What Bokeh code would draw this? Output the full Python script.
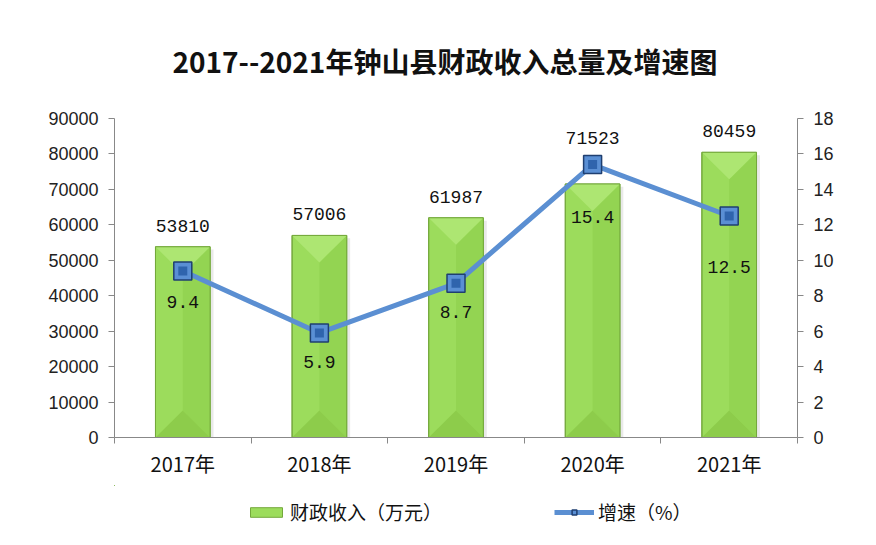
from bokeh.plotting import figure
from bokeh.layouts import column
from bokeh.models import (Range1d, LinearAxis, FixedTicker, NumeralTickFormatter,
                          Legend, LegendItem, ColumnDataSource)
from bokeh.embed import file_html
from bokeh.resources import INLINE
from bokeh.core.properties import value

# data
years = ["2017年", "2018年", "2019年", "2020年", "2021年"]
revenue = [53810, 57006, 61987, 71523, 80459]
growth = [9.4, 5.9, 8.7, 15.4, 12.5]

idx = list(range(len(years)))

BAR = dict(fill_color="#9cdc5c", line_color="#74a83c", line_width=1)
LINE = dict(line_color="#5b8fd2", line_width=5)
MARK = dict(marker="square", size=18, fill_color="#5a8fd4", line_color="#1f3f70",
            line_width=1.5)

p = figure(width=860, height=485, output_backend="svg", toolbar_location=None,
           x_range=Range1d(-0.5, 4.5), y_range=Range1d(0, 90000),
           min_border_left=114, min_border_right=63, min_border_top=118,
           min_border_bottom=48)
p.extra_y_ranges = {"rate": Range1d(0, 18)}
p.outline_line_color = None
p.xgrid.visible = False
p.ygrid.visible = False

p.title.text = "2017--2021年钟山县财政收入总量及增速图"
p.title.align = "left"
p.title.offset = 58
p.title.text_font = "Noto Sans CJK SC"
p.title.text_font_size = "28px"
p.title.text_font_style = "bold"
p.title.text_color = "#111111"
p.title.standoff = 75

# bars with a pyramid bevel
w = 0.2
dy = 7600
src = ColumnDataSource(dict(x=idx, top=revenue))
p.vbar(x=[i + 0.025 for i in idx], top=[v - 800 for v in revenue], width=0.4,
       fill_color="#999999", fill_alpha=0.22, line_color=None)
p.vbar(x="x", top="top", width=0.4, source=src, **BAR)

top_xs, top_ys, bot_xs, bot_ys, r_xs, r_ys = [], [], [], [], [], []
for i, v in zip(idx, revenue):
    x0, x1 = i - w, i + w
    top_xs.append([x0, x1, i])
    top_ys.append([v, v, v - dy])
    bot_xs.append([x0, x1, i])
    bot_ys.append([0, 0, dy])
    r_xs.append([x1, i, i, x1])
    r_ys.append([0, dy, v - dy, v])
p.patches(r_xs, r_ys, fill_color="#93d452", line_color=None)
p.patches(top_xs, top_ys, fill_color="#ade672", line_color=None)
p.patches(bot_xs, bot_ys, fill_color="#8dcc4b", line_color=None)
p.vbar(x="x", top="top", width=0.4, source=src, fill_color=None,
       line_color="#74a83c", line_width=1)

# growth line
p.line(idx, growth, y_range_name="rate", **LINE)
p.scatter(idx, growth, y_range_name="rate", **MARK)
p.scatter(idx, growth, y_range_name="rate", marker="square", size=9,
          fill_color="#2f64ad", line_color=None)

# data labels
bar_off = [-15, -15, -15, -40, -15]
p.text(idx, revenue, text=[str(v) for v in revenue], text_align="center",
       text_baseline="bottom", y_offset=bar_off, text_font=value("Liberation Mono"),
       text_font_size="18px", text_color="#111111")
rate_off = [25, 23, 23, 46, 45]
p.text(idx, growth, text=[str(g) for g in growth], y_range_name="rate",
       text_align="center", text_baseline="top", y_offset=rate_off,
       text_font=value("Liberation Mono"), text_font_size="18px",
       text_color="#111111")

# axes
ax = p.xaxis[0]
ax.ticker = FixedTicker(ticks=idx, minor_ticks=[i - 0.5 for i in range(6)])
ax.major_label_overrides = {i: y for i, y in zip(idx, years)}
ax.major_tick_out = 0
ax.major_tick_in = 0
ax.minor_tick_out = 6
ax.minor_tick_in = 0
ax.minor_tick_line_color = "#888888"
ax.axis_line_color = "#888888"
ax.major_label_text_font = "Noto Sans CJK SC"
ax.major_label_text_font_size = "20px"
ax.major_label_text_color = "#111111"
ax.major_label_standoff = 5

ly = p.yaxis[0]
ly.ticker = FixedTicker(ticks=list(range(0, 90001, 10000)))
ly.formatter = NumeralTickFormatter(format="0")
ly.major_tick_out = 6
ly.major_tick_in = 0
ly.minor_tick_line_color = None
ly.major_tick_line_color = "#888888"
ly.axis_line_color = "#888888"
ly.major_label_text_font = "Liberation Sans"
ly.major_label_text_font_size = "18px"
ly.major_label_text_color = "#222222"
ly.major_label_standoff = 10

ry = LinearAxis(y_range_name="rate", ticker=FixedTicker(ticks=list(range(0, 19, 2))))
ry.major_tick_out = 6
ry.major_tick_in = 0
ry.minor_tick_line_color = None
ry.major_tick_line_color = "#888888"
ry.axis_line_color = "#888888"
ry.major_label_text_font = "Liberation Sans"
ry.major_label_text_font_size = "18px"
ry.major_label_text_color = "#222222"
ry.major_label_standoff = 10
p.add_layout(ry, "right")

# legend strip below the chart (its renderers sit far outside the visible ranges)
lg = figure(width=860, height=60, output_backend="svg", toolbar_location=None,
            x_range=Range1d(1000, 1001), y_range=Range1d(-2e6, -1e6),
            min_border=0, outline_line_color=None)
lg.axis.visible = False
lg.grid.visible = False
r_bar = lg.vbar(x=idx, top=revenue, width=0.4, **BAR)
r_line = lg.line(idx, growth, **LINE)
r_mark = lg.scatter(idx, growth, **MARK)
legend = Legend(items=[LegendItem(label="财政收入（万元）", renderers=[r_bar]),
                       LegendItem(label="增速（%）", renderers=[r_line, r_mark])],
                orientation="horizontal", location=(132, 20), spacing=112,
                glyph_width=40, glyph_height=12, label_standoff=4,
                padding=0, margin=0,
                label_text_font="Noto Sans CJK SC", label_text_font_size="19px",
                label_text_color="#111111", border_line_color=None,
                background_fill_alpha=0)
lg.add_layout(legend)

open("out.html", "w").write(file_html(column(p, lg, spacing=0), INLINE))
